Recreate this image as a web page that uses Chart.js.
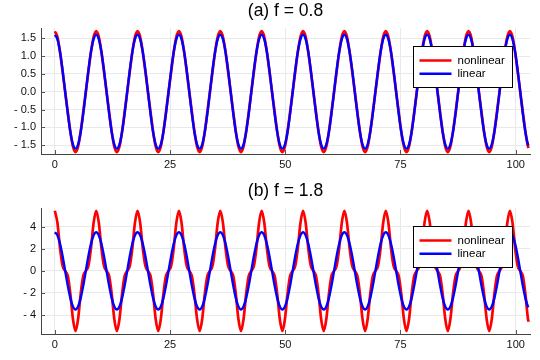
<!DOCTYPE html>
<html><head><meta charset="utf-8">
<script src="https://cdn.jsdelivr.net/npm/chart.js@4.4.1/dist/chart.umd.min.js"></script>
<style>html,body{margin:0;padding:0;background:#fff;overflow:hidden}canvas{display:block}</style>
</head><body>
<canvas id="ca" width="540" height="180"></canvas>
<canvas id="cb" width="540" height="180"></canvas>
<script>
const timeValues = [
0,0.56,1.12,1.68,2.24,2.81,3.37,3.93,4.49,5.05,5.61,6.17,6.73,7.29,7.85,8.42,
8.98,9.54,10.10,10.66,11.22,11.78,12.34,12.90,13.46,14.03,14.59,15.15,15.71,16.27,16.83,17.39,
17.95,18.51,19.07,19.64,20.20,20.76,21.32,21.88,22.44,23.00,23.56,24.12,24.68,25.25,25.81,26.37,
26.93,27.49,28.05,28.61,29.17,29.73,30.29,30.86,31.42,31.98,32.54,33.10,33.66,34.22,34.78,35.34,
35.90,36.47,37.03,37.59,38.15,38.71,39.27,39.83,40.39,40.95,41.51,42.08,42.64,43.20,43.76,44.32,
44.88,45.44,46.00,46.56,47.12,47.69,48.25,48.81,49.37,49.93,50.49,51.05,51.61,52.17,52.73,53.30,
53.86,54.42,54.98,55.54,56.10,56.66,57.22,57.78,58.34,58.91,59.47,60.03,60.59,61.15,61.71,62.27,
62.83,63.39,63.95,64.52,65.08,65.64,66.20,66.76,67.32,67.88,68.44,69.00,69.56,70.13,70.69,71.25,
71.81,72.37,72.93,73.49,74.05,74.61,75.17,75.74,76.30,76.86,77.42,77.98,78.54,79.10,79.66,80.22,
80.78,81.35,81.91,82.47,83.03,83.59,84.15,84.71,85.27,85.83,86.39,86.96,87.52,88.08,88.64,89.20,
89.76,90.32,90.88,91.44,92.00,92.57,93.13,93.69,94.25,94.81,95.37,95.93,96.49,97.05,97.61,98.18,
98.74,99.30,99.86,100.42,100.98,101.54,102.10,102.66,102.80];

const nonlinearA = [
1.70,1.54,1.12,0.57,0.00,-0.57,-1.12,-1.54,-1.70,-1.54,-1.12,-0.57,0.00,0.57,1.12,1.54,
1.70,1.54,1.12,0.57,0.00,-0.57,-1.12,-1.54,-1.70,-1.54,-1.12,-0.57,0.00,0.57,1.12,1.54,
1.70,1.54,1.12,0.57,0.00,-0.57,-1.12,-1.54,-1.70,-1.54,-1.12,-0.57,0.00,0.57,1.12,1.54,
1.70,1.54,1.12,0.57,0.00,-0.57,-1.12,-1.54,-1.70,-1.54,-1.12,-0.57,0.00,0.57,1.12,1.54,
1.70,1.54,1.12,0.57,0.00,-0.57,-1.12,-1.54,-1.70,-1.54,-1.12,-0.57,0.00,0.57,1.12,1.54,
1.70,1.54,1.12,0.57,0.00,-0.57,-1.12,-1.54,-1.70,-1.54,-1.12,-0.57,0.00,0.57,1.12,1.54,
1.70,1.54,1.12,0.57,0.00,-0.57,-1.12,-1.54,-1.70,-1.54,-1.12,-0.57,0.00,0.57,1.12,1.54,
1.70,1.54,1.12,0.57,0.00,-0.57,-1.12,-1.54,-1.70,-1.54,-1.12,-0.57,0.00,0.57,1.12,1.54,
1.70,1.54,1.12,0.57,0.00,-0.57,-1.12,-1.54,-1.70,-1.54,-1.12,-0.57,0.00,0.57,1.12,1.54,
1.70,1.54,1.12,0.57,0.00,-0.57,-1.12,-1.54,-1.70,-1.54,-1.12,-0.57,0.00,0.57,1.12,1.54,
1.70,1.54,1.12,0.57,0.00,-0.57,-1.12,-1.54,-1.70,-1.54,-1.12,-0.57,0.00,0.57,1.12,1.54,
1.70,1.54,1.12,0.57,0.00,-0.57,-1.12,-1.54,-1.58];

const linearA = [
1.60,1.48,1.13,0.61,0.00,-0.61,-1.13,-1.48,-1.60,-1.48,-1.13,-0.61,0.00,0.61,1.13,1.48,
1.60,1.48,1.13,0.61,0.00,-0.61,-1.13,-1.48,-1.60,-1.48,-1.13,-0.61,0.00,0.61,1.13,1.48,
1.60,1.48,1.13,0.61,0.00,-0.61,-1.13,-1.48,-1.60,-1.48,-1.13,-0.61,0.00,0.61,1.13,1.48,
1.60,1.48,1.13,0.61,0.00,-0.61,-1.13,-1.48,-1.60,-1.48,-1.13,-0.61,0.00,0.61,1.13,1.48,
1.60,1.48,1.13,0.61,0.00,-0.61,-1.13,-1.48,-1.60,-1.48,-1.13,-0.61,0.00,0.61,1.13,1.48,
1.60,1.48,1.13,0.61,0.00,-0.61,-1.13,-1.48,-1.60,-1.48,-1.13,-0.61,0.00,0.61,1.13,1.48,
1.60,1.48,1.13,0.61,0.00,-0.61,-1.13,-1.48,-1.60,-1.48,-1.13,-0.61,0.00,0.61,1.13,1.48,
1.60,1.48,1.13,0.61,0.00,-0.61,-1.13,-1.48,-1.60,-1.48,-1.13,-0.61,0.00,0.61,1.13,1.48,
1.60,1.48,1.13,0.61,0.00,-0.61,-1.13,-1.48,-1.60,-1.48,-1.13,-0.61,0.00,0.61,1.13,1.48,
1.60,1.48,1.13,0.61,0.00,-0.61,-1.13,-1.48,-1.60,-1.48,-1.13,-0.61,0.00,0.61,1.13,1.48,
1.60,1.48,1.13,0.61,0.00,-0.61,-1.13,-1.48,-1.60,-1.48,-1.13,-0.61,0.00,0.61,1.13,1.48,
1.60,1.48,1.13,0.61,0.00,-0.61,-1.13,-1.48,-1.51];

const nonlinearB = [
5.44,4.36,2.09,0.46,0.00,-0.46,-2.09,-4.36,-5.44,-4.36,-2.09,-0.46,0.00,0.46,2.09,4.36,
5.44,4.36,2.09,0.46,0.00,-0.46,-2.09,-4.36,-5.44,-4.36,-2.09,-0.46,0.00,0.46,2.09,4.36,
5.44,4.36,2.09,0.46,0.00,-0.46,-2.09,-4.36,-5.44,-4.36,-2.09,-0.46,0.00,0.46,2.09,4.36,
5.44,4.36,2.09,0.46,0.00,-0.46,-2.09,-4.36,-5.44,-4.36,-2.09,-0.46,0.00,0.46,2.09,4.36,
5.44,4.36,2.09,0.46,0.00,-0.46,-2.09,-4.36,-5.44,-4.36,-2.09,-0.46,0.00,0.46,2.09,4.36,
5.44,4.36,2.09,0.46,0.00,-0.46,-2.09,-4.36,-5.44,-4.36,-2.09,-0.46,0.00,0.46,2.09,4.36,
5.44,4.36,2.09,0.46,0.00,-0.46,-2.09,-4.36,-5.44,-4.36,-2.09,-0.46,0.00,0.46,2.09,4.36,
5.44,4.36,2.09,0.46,0.00,-0.46,-2.09,-4.36,-5.44,-4.36,-2.09,-0.46,0.00,0.46,2.09,4.36,
5.44,4.36,2.09,0.46,0.00,-0.46,-2.09,-4.36,-5.44,-4.36,-2.09,-0.46,0.00,0.46,2.09,4.36,
5.44,4.36,2.09,0.46,0.00,-0.46,-2.09,-4.36,-5.44,-4.36,-2.09,-0.46,0.00,0.46,2.09,4.36,
5.44,4.36,2.09,0.46,0.00,-0.46,-2.09,-4.36,-5.44,-4.36,-2.09,-0.46,0.00,0.46,2.09,4.36,
5.44,4.36,2.09,0.46,0.00,-0.46,-2.09,-4.36,-4.61];

const linearB = [
3.50,3.23,2.47,1.34,0.00,-1.34,-2.47,-3.23,-3.50,-3.23,-2.47,-1.34,0.00,1.34,2.47,3.23,
3.50,3.23,2.47,1.34,0.00,-1.34,-2.47,-3.23,-3.50,-3.23,-2.47,-1.34,0.00,1.34,2.47,3.23,
3.50,3.23,2.47,1.34,0.00,-1.34,-2.47,-3.23,-3.50,-3.23,-2.47,-1.34,0.00,1.34,2.47,3.23,
3.50,3.23,2.47,1.34,0.00,-1.34,-2.47,-3.23,-3.50,-3.23,-2.47,-1.34,0.00,1.34,2.47,3.23,
3.50,3.23,2.47,1.34,0.00,-1.34,-2.47,-3.23,-3.50,-3.23,-2.47,-1.34,0.00,1.34,2.47,3.23,
3.50,3.23,2.47,1.34,0.00,-1.34,-2.47,-3.23,-3.50,-3.23,-2.47,-1.34,0.00,1.34,2.47,3.23,
3.50,3.23,2.47,1.34,0.00,-1.34,-2.47,-3.23,-3.50,-3.23,-2.47,-1.34,0.00,1.34,2.47,3.23,
3.50,3.23,2.47,1.34,0.00,-1.34,-2.47,-3.23,-3.50,-3.23,-2.47,-1.34,0.00,1.34,2.47,3.23,
3.50,3.23,2.47,1.34,0.00,-1.34,-2.47,-3.23,-3.50,-3.23,-2.47,-1.34,0.00,1.34,2.47,3.23,
3.50,3.23,2.47,1.34,0.00,-1.34,-2.47,-3.23,-3.50,-3.23,-2.47,-1.34,0.00,1.34,2.47,3.23,
3.50,3.23,2.47,1.34,0.00,-1.34,-2.47,-3.23,-3.50,-3.23,-2.47,-1.34,0.00,1.34,2.47,3.23,
3.50,3.23,2.47,1.34,0.00,-1.34,-2.47,-3.23,-3.30];

const titleA = '(a) f = 0.8';
const titleB = '(b) f = 1.8';
const seriesNames = ['nonlinear', 'linear'];
const seriesColors = ['#ff0000', '#0000ff'];
const xTickValues = [0, 25, 50, 75, 100];
const xTickLabels = ['0', '25', '50', '75', '100'];
const yTickValuesA = [1.5, 1.0, 0.5, 0.0, -0.5, -1.0, -1.5];
const yTickLabelsA = ['1.5', '1.0', '0.5', '0.0', '- 0.5', '- 1.0', '- 1.5'];
const yTickValuesB = [4, 2, 0, -2, -4];
const yTickLabelsB = ['4', '2', '0', '- 2', '- 4'];

const FONT = "'Liberation Sans', Arial, sans-serif";

const innerTicks = {
  id: 'innerTicks',
  beforeDatasetsDraw(chart) {
    const ctx = chart.ctx, ca = chart.chartArea;
    const xs = chart.scales.x, ys = chart.scales.y;
    ctx.save();
    ctx.strokeStyle = '#555';
    ctx.lineWidth = 1;
    ctx.beginPath();
    xs.ticks.forEach(t => {
      const p = Math.round(xs.getPixelForValue(t.value)) + 0.5;
      ctx.moveTo(p, ca.bottom); ctx.lineTo(p, ca.bottom - 4);
    });
    ys.ticks.forEach(t => {
      const p = Math.round(ys.getPixelForValue(t.value)) + 0.5;
      ctx.moveTo(ca.left, p); ctx.lineTo(ca.left + 4, p);
    });
    ctx.stroke();
    ctx.restore();
  }
};

const boxLegend = {
  id: 'boxLegend',
  afterDraw(chart) {
    const ctx = chart.ctx, ca = chart.chartArea;
    const x0 = Math.round(ca.right - 117) + 0.5, y0 = Math.round(ca.top + 18) + 0.5;
    const w = 99, h = 41;
    ctx.save();
    ctx.fillStyle = '#fff';
    ctx.fillRect(x0, y0, w, h);
    ctx.strokeStyle = '#000';
    ctx.lineWidth = 1;
    ctx.strokeRect(x0, y0, w, h);
    ctx.font = '11.5px ' + FONT;
    ctx.textBaseline = 'middle';
    ctx.textAlign = 'left';
    chart.data.datasets.forEach((ds, i) => {
      const yy = y0 + 14 + i * 13.3;
      ctx.strokeStyle = ds.borderColor;
      ctx.lineWidth = 2.5;
      ctx.beginPath();
      ctx.moveTo(x0 + 6, yy); ctx.lineTo(x0 + 38, yy);
      ctx.stroke();
      ctx.fillStyle = '#000';
      ctx.fillText(ds.label, x0 + 44, yy + 0.5);
    });
    ctx.restore();
  }
};

function makeChart(id, title, nl, lin, yVals, yLabels, yMin, yMax) {
  const toPts = arr => arr.map((v, i) => ({ x: timeValues[i], y: v }));
  return new Chart(document.getElementById(id), {
    type: 'line',
    data: {
      datasets: [
        { label: seriesNames[0], data: toPts(nl), borderColor: seriesColors[0], borderWidth: 2.7,
          pointRadius: 0, cubicInterpolationMode: 'monotone', order: 1, fill: false },
        { label: seriesNames[1], data: toPts(lin), borderColor: seriesColors[1], borderWidth: 2.4,
          pointRadius: 0, cubicInterpolationMode: 'monotone', order: 0, fill: false }
      ]
    },
    options: {
      responsive: false,
      animation: false,
      devicePixelRatio: 1,
      layout: { padding: { left: 0, right: 10, top: 0, bottom: 0 } },
      plugins: {
        legend: { display: false },
        tooltip: { enabled: false },
        title: {
          display: true, text: title, fullSize: false, color: '#000',
          font: { family: FONT, size: 17.5, weight: 'normal', lineHeight: 1.2 },
          padding: { top: 1, bottom: 6 }
        }
      },
      scales: {
        x: {
          type: 'linear', min: -3.0, max: 103.1,
          afterBuildTicks: s => { s.ticks = xTickValues.map(v => ({ value: v })); },
          afterFit: s => { s.height = 26; },
          ticks: {
            callback: v => xTickLabels[xTickValues.indexOf(v)],
            font: { family: FONT, size: 11 }, color: '#111', padding: 4,
            maxRotation: 0, autoSkip: false
          },
          grid: { color: '#e9e9e9', lineWidth: 1, drawTicks: false },
          border: { color: '#444', width: 1 }
        },
        y: {
          type: 'linear', min: yMin, max: yMax,
          afterBuildTicks: s => { s.ticks = yVals.map(v => ({ value: v })); },
          afterFit: s => { s.width = 41; },
          ticks: {
            callback: v => yLabels[yVals.indexOf(v)],
            font: { family: FONT, size: 11 }, color: '#111', padding: 5,
            autoSkip: false
          },
          grid: { color: '#e9e9e9', lineWidth: 1, drawTicks: false },
          border: { color: '#444', width: 1 }
        }
      }
    },
    plugins: [innerTicks, boxLegend]
  });
}

makeChart('ca', titleA, nonlinearA, linearA, yTickValuesA, yTickLabelsA, -1.75, 1.79);
makeChart('cb', titleB, nonlinearB, linearB, yTickValuesB, yTickLabelsB, -5.72, 5.69);
</script>
</body></html>
